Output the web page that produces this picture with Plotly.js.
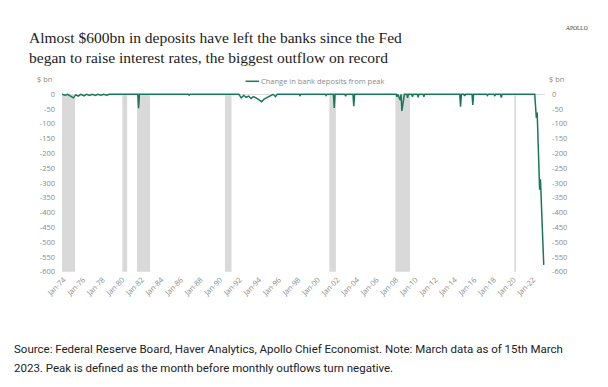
<!DOCTYPE html>
<html>
<head>
<meta charset="utf-8">
<script src="https://cdn.plot.ly/plotly-3.0.1.min.js"></script>
<style>
  html, body { margin: 0; padding: 0; background: #fff; }
  #chart { width: 608px; height: 387px; }
</style>
</head>
<body>
<div id="chart"></div>
<script>
// Change in bank deposits from peak ($ bn); flat at 0 between listed points
const dates = [
  '1973-11-01','1974-03-01','1974-06-01','1974-10-01','1975-01-01','1975-04-01','1975-07-01','1975-10-01',
  '1976-02-01','1976-05-01','1976-09-01','1976-12-01','1977-04-01','1977-07-01','1977-11-01','1978-02-01',
  '1978-06-01','1978-09-01',
  '1981-08-01','1981-09-01','1981-10-01',
  '1986-10-01','1986-11-01','1986-12-01',
  '1991-12-01','1992-03-01','1992-06-01','1992-09-01','1992-12-01','1993-03-01','1993-06-01','1993-09-01',
  '1994-01-01','1994-04-01','1994-07-01','1994-10-01','1995-01-01','1995-04-01','1995-06-01','1995-09-01','1995-11-01',
  '1998-02-01','1998-03-01','1998-04-01',
  '2000-10-01','2000-11-01','2000-12-01',
  '2001-08-01','2001-09-01','2001-10-01',
  '2002-10-01','2002-11-01','2002-12-01',
  '2003-08-01','2003-09-01','2003-10-01',
  '2008-01-01','2008-02-01','2008-03-01','2008-06-01','2008-07-01','2008-08-01','2008-10-01','2008-11-01',
  '2009-02-01','2009-03-01','2009-04-01','2009-08-01','2009-09-01','2009-10-01','2010-03-01','2010-04-01',
  '2010-05-01','2010-10-01','2010-11-01','2010-12-01',
  '2014-07-01','2014-08-01','2014-09-01','2014-12-01','2015-01-01','2015-02-01',
  '2015-10-01','2015-11-01','2015-12-01',
  '2017-04-01','2017-05-01','2017-06-01','2018-01-01','2018-02-01','2018-03-01',
  '2018-09-01','2018-10-01','2018-11-01',
  '2022-03-01','2022-04-01','2022-05-01','2022-06-01','2022-07-01','2022-08-01','2022-09-01','2022-10-01',
  '2022-11-01','2022-12-01','2023-01-01','2023-02-01','2023-03-01'
];
const change = [
  0,-3,0,-8,-12,-2,-6,0,
  -5,0,-4,0,-4,0,-3,0,
  -3,0,
  0,-47,0,
  0,-3,0,
  0,-12,-4,-10,-6,-14,-8,-12,
  -18,-25,-16,-12,-6,-3,0,-8,0,
  0,-6,0,
  0,-4,0,
  0,-46,0,
  0,-6,0,
  0,-40,0,
  0,-8,0,-20,0,-56,-10,0,
  0,-12,0,0,-8,0,0,-10,
  0,0,-8,0,
  0,-42,0,0,-5,0,
  0,-36,0,
  0,-4,0,0,-6,0,
  0,-11,0,
  0,-30,-80,-62,-170,-284,-323,
  -287,-380,-460,-525,-577
];
// Recession periods (shaded)
const recStart = ['1973-11-01','1980-01-01','1981-07-01','1990-07-01','2001-03-01','2007-12-01','2020-02-01'];
const recEnd   = ['1975-03-01','1980-07-01','1982-11-01','1991-03-01','2001-11-01','2009-06-01','2020-04-01'];
const yTicks = [0,-50,-100,-150,-200,-250,-300,-350,-400,-450,-500,-550,-600];

const seriesName = 'Change in bank deposits from peak';
const green = '#17785C';
const tickFont = {family: 'Open Sans, sans-serif', size: 7.5, color: '#8a8a8a'};

const shapes = recStart.map((s, i) => ({
  type: 'rect', xref: 'x', yref: 'y', x0: s, x1: recEnd[i], y0: -600, y1: 0,
  fillcolor: '#d9d9d9', line: {width: 0}, layer: 'below'
}));
// legend sample line
shapes.push({type: 'line', xref: 'paper', yref: 'paper', x0: 0.38, x1: 0.408, y0: 1.065, y1: 1.065,
  line: {color: green, width: 1.5}});

const data = [
  {x: dates, y: change, type: 'scatter', mode: 'lines', name: seriesName,
   line: {color: green, width: 1.5}, showlegend: false},
  {x: [], y: [], type: 'scatter', mode: 'lines', yaxis: 'y2', showlegend: false, hoverinfo: 'skip'}
];

const yCommon = {
  range: [-604.4, 4.4], tickvals: yTicks, ticktext: yTicks.map(String),
  showgrid: false, showline: false, ticks: '',
  tickfont: tickFont, ticklabelstandoff: 6, fixedrange: true
};

const layout = {
  width: 608, height: 387,
  margin: {l: 62, r: 63, t: 93, b: 114},
  paper_bgcolor: '#fff', plot_bgcolor: '#fff',
  title: {
    text: 'Almost $600bn in deposits have left the banks since the Fed<br>began to raise interest rates, the biggest outflow on record',
    font: {family: 'Liberation Serif, serif', size: 15.5, color: '#222'},
    x: 0.0477, xanchor: 'left', xref: 'container', y: 0.89, yanchor: 'middle', yref: 'container'
  },
  xaxis: {
    type: 'date', range: ['1973-11-01', '2023-03-20'],
    tick0: '1974-01-01', dtick: 'M24', tickformat: '%b-%y', tickangle: -45,
    showgrid: false, zeroline: false, showline: false, ticks: '',
    tickfont: tickFont, fixedrange: true
  },
  yaxis: Object.assign({}, yCommon, {side: 'left', zeroline: true, zerolinecolor: '#d9d9d9', zerolinewidth: 1}),
  yaxis2: Object.assign({}, yCommon, {side: 'right', overlaying: 'y', anchor: 'x', zeroline: false}),
  shapes: shapes,
  annotations: [
    {text: '$ bn', xref: 'paper', yref: 'paper', x: -0.016, y: 1.08, xanchor: 'right', yanchor: 'middle',
     showarrow: false, font: tickFont},
    {text: '$ bn', xref: 'paper', yref: 'paper', x: 1.004, y: 1.08, xanchor: 'left', yanchor: 'middle',
     showarrow: false, font: tickFont},
    {text: seriesName, xref: 'paper', yref: 'paper', x: 0.408, y: 1.065, xanchor: 'left', yanchor: 'middle',
     showarrow: false, font: {family: 'Open Sans, sans-serif', size: 7.5, color: '#8a8a8a'}},
    {text: 'APOLLO', xref: 'paper', yref: 'paper', x: 1.066, y: 1.36, xanchor: 'center', yanchor: 'middle',
     showarrow: false, font: {family: 'Liberation Serif, serif', size: 5.5, color: '#333'}},
    {text: 'Source: Federal Reserve Board, Haver Analytics, Apollo Chief Economist. Note: March data as of 15th March',
     xref: 'paper', yref: 'paper', x: -0.1035, y: -0.42, xanchor: 'left', yanchor: 'middle',
     showarrow: false, font: {family: 'Roboto, sans-serif', size: 11.5, color: '#222'}},
    {text: '2023. Peak is defined as the month before monthly outflows turn negative.',
     xref: 'paper', yref: 'paper', x: -0.1035, y: -0.525, xanchor: 'left', yanchor: 'middle',
     showarrow: false, font: {family: 'Roboto, sans-serif', size: 11.5, color: '#222'}}
  ],
  showlegend: false
};

Plotly.newPlot('chart', data, layout, {displayModeBar: false, staticPlot: true});
</script>
</body>
</html>
